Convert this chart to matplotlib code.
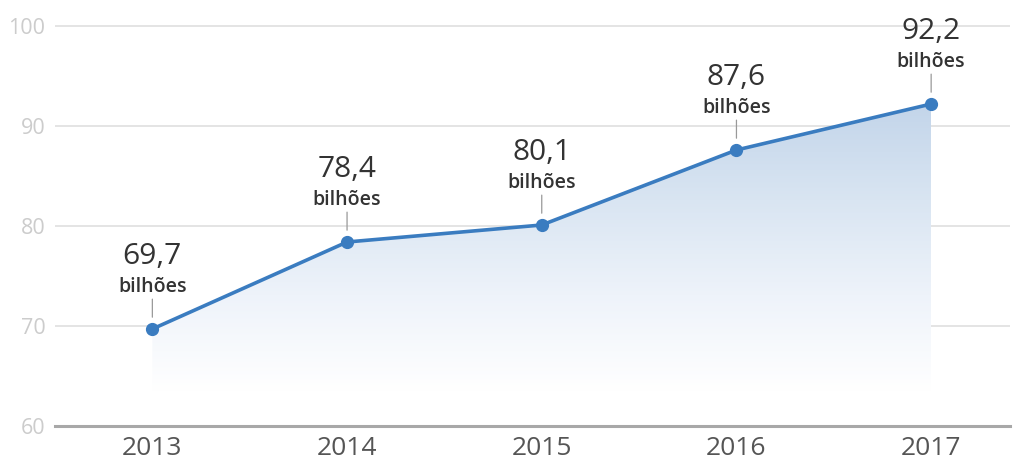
import numpy as np
import matplotlib.pyplot as plt
from matplotlib.colors import LinearSegmentedColormap

years = [2013, 2014, 2015, 2016, 2017]
values = [69.7, 78.4, 80.1, 87.6, 92.2]
value_labels = ["69,7", "78,4", "80,1", "87,6", "92,2"]
unit_label = "bilhões"
y_ticks = [60, 70, 80, 90, 100]

line_color = "#3a7cc0"
fill_floor = 63.5

fig = plt.figure(figsize=(10.17, 4.63), dpi=100)
W, H = 1017, 463
ax = fig.add_axes([55 / W, (H - 426) / H, (1010 - 55) / W, 425 / H])
ax.set_xlim(2012.5, 2017.405)
ax.set_ylim(60, 102.5)

# grid lines
for t in y_ticks[1:]:
    ax.axhline(t, color="#e2e2e2", lw=1.3, zorder=0)
ax.axhline(60, color="#a8a8a8", lw=2.2, zorder=1, clip_on=False)

for s in ax.spines.values():
    s.set_visible(False)
ax.set_yticks(y_ticks)
ax.set_yticklabels([str(t) for t in y_ticks], color="#cccccc",
                   fontsize=15.5, family="Open Sans")
ax.set_xticks(years)
ax.set_xticklabels([str(y) for y in years], color="#555555",
                   fontsize=19, family="Open Sans")
ax.tick_params(axis="y", length=0, pad=7)
ax.tick_params(axis="x", length=0, pad=7)

# vertical gradient under the line
cmap = LinearSegmentedColormap.from_list(
    "fade", ["#ffffff", "#eef3fa", "#d9e5f2", "#c3d5ea"])
grad = np.linspace(0, 1, 256).reshape(-1, 1)
img = ax.imshow(grad, extent=[years[0], years[-1], fill_floor, max(values)],
                origin="lower", aspect="auto", cmap=cmap, zorder=1,
                interpolation="bicubic")
poly = ax.fill_between(years, values, fill_floor, color="none", lw=0)
clip = poly.get_paths()[0]
img.set_clip_path(clip, ax.transData)

ax.plot(years, values, color=line_color, lw=2.6, zorder=3,
        marker="o", markersize=8.5, markerfacecolor=line_color,
        markeredgecolor=line_color, solid_capstyle="round")

# value labels above each point
for x, v, lab in zip(years, values, value_labels):
    ax.annotate("", xy=(x, v), xytext=(0, 21.5), textcoords="offset points",
                xycoords="data",
                arrowprops=dict(arrowstyle="-", color="#999999", lw=0.9,
                                shrinkA=0, shrinkB=8.5))
    ax.annotate(unit_label, xy=(x, v), xytext=(0, 26.5),
                textcoords="offset points", ha="center", va="baseline",
                fontsize=14, color="#333333", family="Open Sans",
                fontweight="semibold", annotation_clip=False)
    ax.annotate(lab, xy=(x, v), xytext=(0, 47),
                textcoords="offset points", ha="center", va="baseline",
                fontsize=21.5, color="#333333", family="Open Sans",
                annotation_clip=False)

fig.savefig("out.png", dpi=100, facecolor="white")
